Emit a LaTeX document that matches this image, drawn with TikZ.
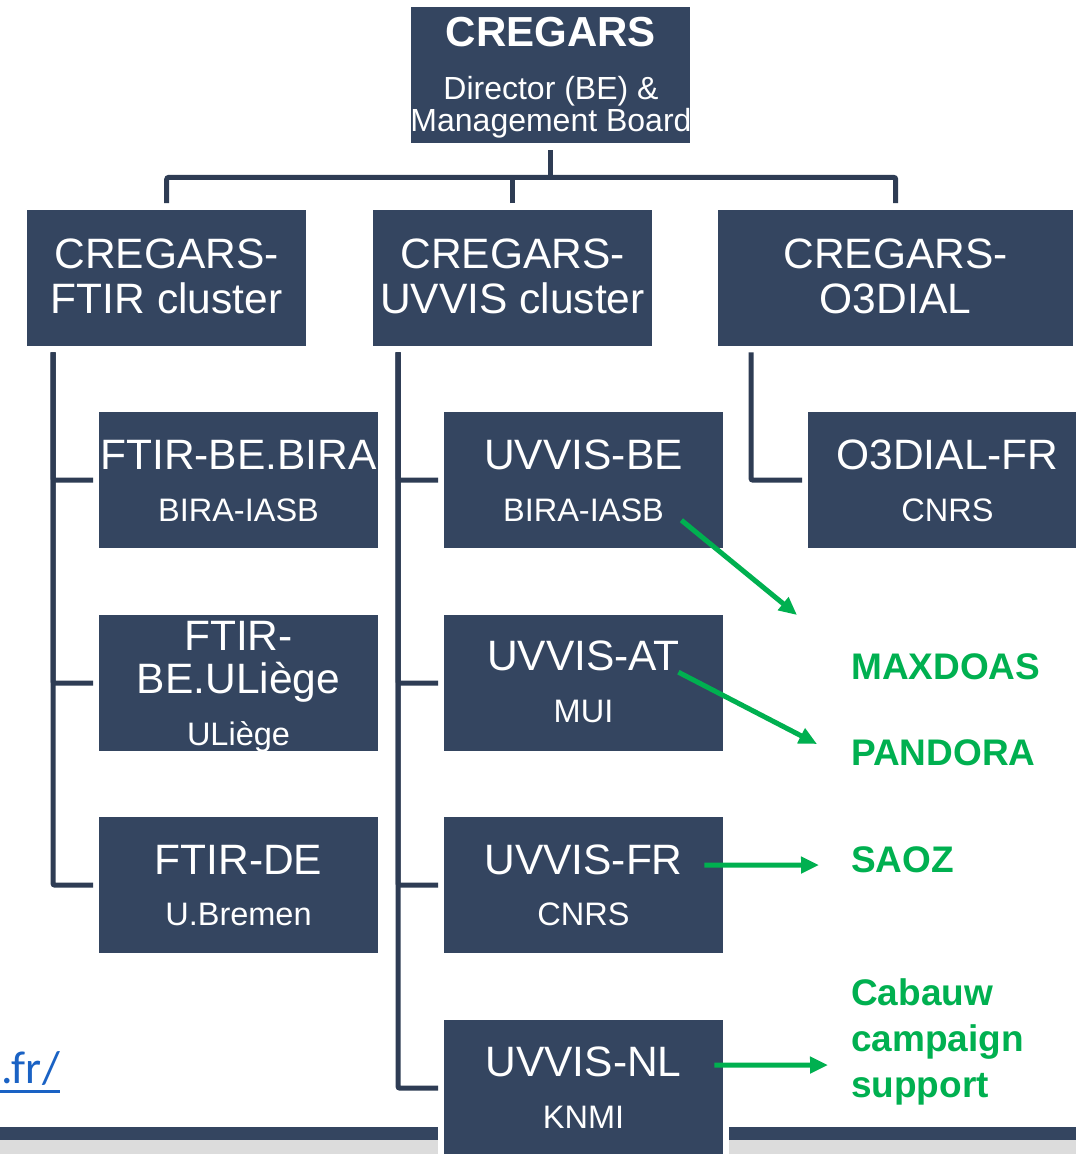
\documentclass[tikz,border=0pt]{standalone}
\usepackage{fontspec}
\setmainfont{Liberation Sans}
\newfontfamily\linkfont{Carlito}
\usetikzlibrary{arrows.meta,calc}
\definecolor{navy}{HTML}{344560}
\definecolor{lineclr}{HTML}{2E3C54}
\definecolor{grn}{HTML}{00B050}
\definecolor{linkblue}{HTML}{1A62C4}
\definecolor{bargray}{HTML}{DCDCDC}
\begin{document}
\begin{tikzpicture}[x=1pt,y=-1pt,
  box/.style={fill=navy, draw=none, minimum width=279pt, minimum height=136pt, inner sep=0pt, anchor=north west},
  big/.style={text=white, font=\fontsize{42.5}{45}\selectfont, anchor=base, inner sep=0pt},
  small/.style={text=white, font=\fontsize{32.5}{34}\selectfont, anchor=base, inner sep=0pt},
  conn/.style={draw=lineclr, line width=5pt, rounded corners=2pt},
  garrow/.style={draw=grn, line width=5pt, -{Triangle[length=18pt,width=16pt]}},
  glabel/.style={text=grn, font=\bfseries\fontsize{37}{44}\selectfont, anchor=base west, inner sep=0pt}]
\useasboundingbox (0,0) rectangle (1076,1154);
\clip (0,0) rectangle (1076,1154);
\fill[white] (0,0) rectangle (1076,1154);

% bottom bar
\fill[navy] (0,1127) rectangle (1076,1140);
\fill[bargray] (0,1140) rectangle (1076,1154);
\fill[white] (438,1118) rectangle (729,1154);

% top box
\node[box] (top) at (411,7) {};
\node[text=white, font=\bfseries\fontsize{42}{45}\selectfont, anchor=base, inner sep=0pt] (topt) at (551,46) {CREGARS};
\node[text=white, font=\fontsize{32}{34}\selectfont, anchor=base, inner sep=0pt] (topd) at (551,99) {Director (BE) \&};
\node[text=white, font=\fontsize{32}{34}\selectfont, anchor=base, inner sep=0pt] (topm) at (551,131) {Management Board};

% cluster boxes
\node[box] (ftirc) at (27,210) {};
\node[box] (uvc) at (373,210) {};
\node[box, minimum width=355pt] (o3c) at (718,210) {};
\node[big] (ftirc1) at (166.5,268) {CREGARS-};
\node[big] (ftirc2) at (166.5,313) {FTIR cluster};
\node[big] (uvc1) at (512.5,268) {CREGARS-};
\node[big] (uvc2) at (512.5,313) {UVVIS cluster};
\node[big] (o3c1) at (895.5,268) {CREGARS-};
\node[big] (o3c2) at (895.5,313) {O3DIAL};

% FTIR children
\node[box] (fbe) at (99,412) {};
\node[big] (fbe1) at (238.5,469) {FTIR-BE.BIRA};
\node[small] (fbe2) at (238.5,521) {BIRA-IASB};
\node[box] (flg) at (99,615) {};
\node[big] (flg1) at (238.5,650) {FTIR-};
\node[big] (flg2) at (238.5,693) {BE.ULiège};
\node[small] (flg3) at (238.5,745) {ULiège};
\node[box] (fde) at (99,817) {};
\node[big] (fde1) at (238.5,874) {FTIR-DE};
\node[small] (fde2) at (238.5,925) {U.Bremen};

% UVVIS children
\node[box] (uvbe) at (444,412) {};
\node[big] (uvbe1) at (583.5,469) {UVVIS-BE};
\node[small] (uvbe2) at (583.5,521) {BIRA-IASB};
\node[box] (uvat) at (444,615) {};
\node[big] (uvat1) at (583.5,670) {UVVIS-AT};
\node[small] (uvat2) at (583.5,722) {MUI};
\node[box] (uvfr) at (444,817) {};
\node[big] (uvfr1) at (583.5,874) {UVVIS-FR};
\node[small] (uvfr2) at (583.5,925) {CNRS};
\node[box] (uvnl) at (444,1020) {};
\node[big] (uvnl1) at (583.5,1076) {UVVIS-NL};
\node[small] (uvnl2) at (583.5,1128) {KNMI};

% O3DIAL child
\node[box] (o3fr) at (808,412) {};
\node[big] (o3fr1) at (947.5,469) {O3DIAL-FR};
\node[small] (o3fr2) at (947.5,521) {CNRS};

% top connectors
\coordinate (hub) at ($(top.south)+(0,34)$);
\draw[conn] ($(top.south)+(0,7)$) -- (hub);
\draw[conn] ($(ftirc.north)+(0,-7)$) |- (hub) -| ($(o3c.north)+(0,-7)$);
\draw[conn] ($(uvc.north)+(0,-7)$) -- (uvc.north |- hub);

% trunks
\coordinate (tl) at ($(ftirc.south west)+(26,6)$);
\draw[conn] (tl) |- ($(fbe.west)+(-6,0)$);
\draw[conn] (tl) |- ($(flg.west)+(-6,0)$);
\draw[conn] (tl) |- ($(fde.west)+(-6,0)$);
\coordinate (tm) at ($(uvc.south west)+(25,6)$);
\draw[conn] (tm) |- ($(uvbe.west)+(-6,0)$);
\draw[conn] (tm) |- ($(uvat.west)+(-6,0)$);
\draw[conn] (tm) |- ($(uvfr.west)+(-6,0)$);
\draw[conn] (tm) |- ($(uvnl.west)+(-6,0)$);
\coordinate (tr) at ($(o3c.south west)+(33,6)$);
\draw[conn] (tr) |- ($(o3fr.west)+(-6,0)$);

% green labels
\node[glabel] (maxdoas) at (851,679) {MAXDOAS};
\node[glabel] (pandora) at (851,765) {PANDORA};
\node[glabel] (saoz) at (851,872) {SAOZ};
\node[glabel] (cab1) at (851,1005) {Cabauw};
\node[glabel] (cab2) at (851,1051) {campaign};
\node[glabel] (cab3) at (851,1097) {support};

% green arrows
\draw[garrow] ($(uvbe.east)+(-42,40)$) -- ($(maxdoas.base west)+(-54,-64)$);
\draw[garrow] ($(uvat.east)+(-45,-11)$) -- ($(pandora.base west)+(-34,-21)$);
\draw[garrow] ($(uvfr.east)+(-19,-20)$) -- ($(saoz.base west)+(-32,-7)$);
\draw[garrow] ($(uvnl.east)+(-9,-23)$) -- ($(cab2.base west)+(-23,14)$);

% link fragment
\node[anchor=base west, text=linkblue, font=\linkfont\fontsize{46}{50}\selectfont, inner sep=0pt] (link) at (1,1083) {.fr/};
\draw[linkblue, line width=3pt] (0,1091) -- ($(link.base east)+(0,8)$);
\end{tikzpicture}
\end{document}
